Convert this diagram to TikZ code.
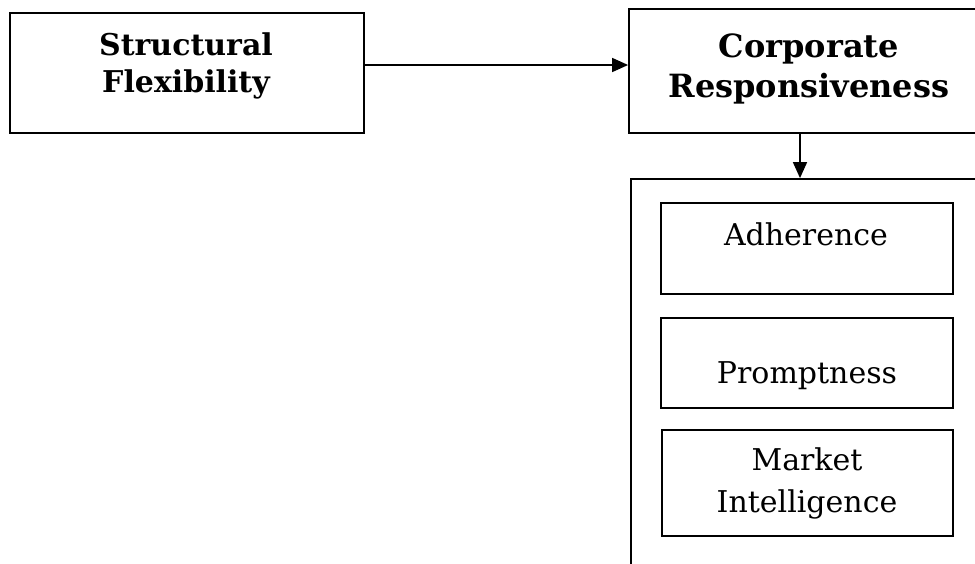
\documentclass[tikz,border=0pt]{standalone}
\usepackage{fontspec}
\setmainfont{DejaVu Serif}
\usetikzlibrary{arrows.meta}
\tikzset{
  frame/.style={draw=black, line width=1.8pt, inner sep=0pt},
  reg/.style={font=\fontsize{30}{42}\selectfont, inner sep=0pt, anchor=base},
  bld/.style={font=\fontsize{30}{40}\selectfont\bfseries, inner sep=0pt, anchor=base},
  bldl/.style={font=\fontsize{32}{40}\selectfont\bfseries, inner sep=0pt, anchor=base},
  arr/.style={draw=black, line width=1.6pt, -{Triangle[length=16pt,width=14pt]}}
}
\begin{document}
\begin{tikzpicture}[x=1pt,y=-1pt]
\useasboundingbox (0,0) rectangle (975,563);
\clip (0,0) rectangle (975,563);
% boxes
\node[frame, minimum width=354pt, minimum height=120pt] (sf) at (187,73) {};
\node[frame, minimum width=361pt, minimum height=124pt] (cr) at (809.5,71) {};
\node[frame, minimum width=352pt, minimum height=420pt] (grp) at (807,389) {};
\node[frame, minimum width=292pt, minimum height=91pt] (adh) at (807,248.5) {};
\node[frame, minimum width=292pt, minimum height=90pt] (pro) at (807,363) {};
\node[frame, minimum width=291pt, minimum height=106pt] (mi) at (807.5,483) {};
% texts
\node[bld] (t1) at (186,55) {Structural};
\node[bld] (t2) at (186,92) {Flexibility};
\node[bldl] (t3) at (809,57) {Corporate};
\node[bldl] (t4) at (809,97) {Responsiveness};
\node[reg] (t5) at (806,245) {Adherence};
\node[reg] (t6) at (807,383) {Promptness};
\node[reg] (t7) at (807,470) {Market};
\node[reg] (t8) at (807,512) {Intelligence};
% connectors
\coordinate (a1) at (sf.east |- 0,65);
\coordinate (a2) at (cr.west |- 0,65);
\draw[arr] (a1) -- (a2);
\coordinate (b1) at (800,0);
\draw[arr] (b1 |- cr.south) -- (b1 |- grp.north);
\end{tikzpicture}
\end{document}
